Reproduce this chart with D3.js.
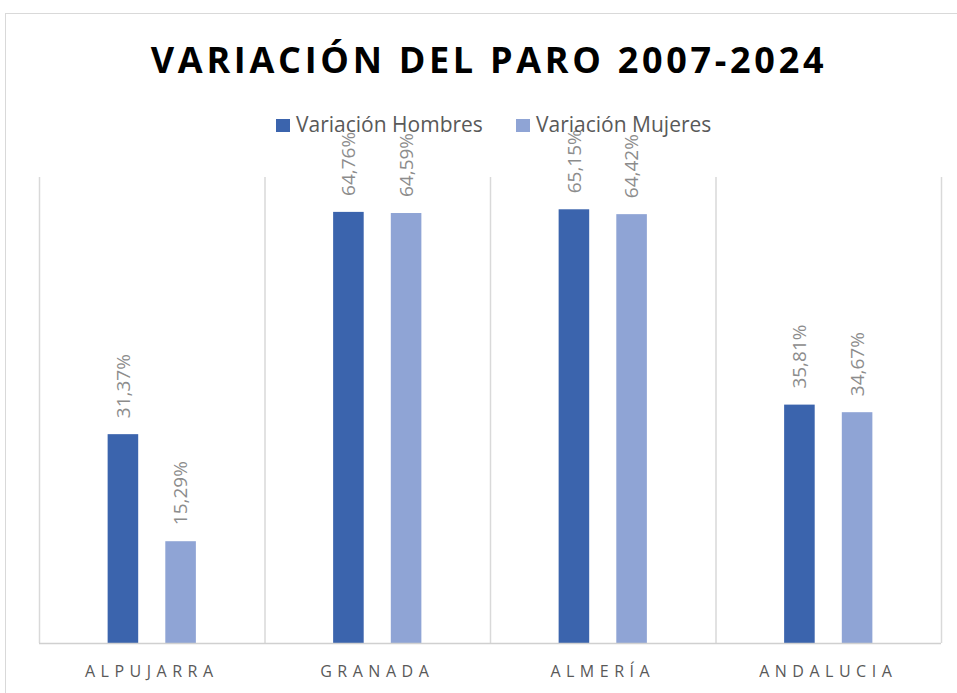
<!DOCTYPE html>
<html>
  <head>
    <meta charset="utf-8" />
    <script src="https://d3js.org/d3.v7.min.js"></script>
    <style>
      body { margin: 0; background: #fff; }
      svg text { font-family: "Open Sans", "Noto Sans", sans-serif; }
    </style>
  </head>
  <body>
    <svg id="chart"></svg>
    <script>
      // Chart data
      var categories = ["ALPUJARRA", "GRANADA", "ALMERÍA", "ANDALUCIA"];
      var seriesNames = ["Variación Hombres", "Variación Mujeres"];
      var hombres = [31.37, 64.76, 65.15, 35.81];
      var mujeres = [15.29, 64.59, 64.42, 34.67];
      var colors = ["#3b64ad", "#8fa4d5"];

      var width = 957;
      var height = 693;

      var svg = d3.select("#chart").attr("width", width).attr("height", height);

      // outer chart border
      svg.append("rect")
        .attr("x", 5.5).attr("y", 13.5)
        .attr("width", 960).attr("height", 700)
        .attr("fill", "white")
        .attr("stroke", "#d9d9d9");

      var plot = { left: 39, right: 941, top: 177, bottom: 643 };

      var x = d3.scaleBand()
        .domain(categories)
        .range([plot.left, plot.right])
        .padding(0);

      var xInner = d3.scaleBand()
        .domain(seriesNames)
        .range([0, x.bandwidth()])
        .paddingInner(0.47)
        .paddingOuter(1.19);

      var y = d3.scaleLinear().domain([0, 70]).range([plot.bottom, plot.top]);

      // vertical gridlines at category boundaries
      var bounds = categories.map(function (c) { return x(c); }).concat([plot.right]);
      svg.append("g")
        .selectAll("line")
        .data(bounds)
        .join("line")
        .attr("x1", function (d) { return d + 0.5; })
        .attr("x2", function (d) { return d + 0.5; })
        .attr("y1", plot.top)
        .attr("y2", plot.bottom)
        .attr("stroke", "#d9d9d9")
        .attr("stroke-width", 1.5);

      var rows = categories.map(function (c, i) {
        return { cat: c, values: [hombres[i], mujeres[i]] };
      });

      var groups = svg.append("g")
        .selectAll("g")
        .data(rows)
        .join("g")
        .attr("transform", function (d) { return "translate(" + x(d.cat) + ",0)"; });

      var bars = groups.selectAll("g")
        .data(function (d) {
          return d.values.map(function (v, j) { return { name: seriesNames[j], value: v, j: j }; });
        })
        .join("g");

      bars.append("rect")
        .attr("x", function (d) { return xInner(d.name); })
        .attr("y", function (d) { return y(d.value); })
        .attr("width", xInner.bandwidth())
        .attr("height", function (d) { return plot.bottom - y(d.value); })
        .attr("fill", function (d) { return colors[d.j]; });

      // rotated value labels
      bars.append("text")
        .attr("transform", function (d) {
          return "translate(" + (xInner(d.name) + xInner.bandwidth() / 2) + "," + (y(d.value) - 16) + ") rotate(-90)";
        })
        .attr("dy", "0.35em")
        .attr("text-anchor", "start")
        .style("font-size", "19px")
        .style("fill", "#8c8c8c")
        .text(function (d) { return d.value.toFixed(2).replace(".", ",") + "%"; });

      // baseline
      svg.append("line")
        .attr("x1", plot.left).attr("x2", plot.right)
        .attr("y1", plot.bottom + 0.5).attr("y2", plot.bottom + 0.5)
        .attr("stroke", "#d0d0d0")
        .attr("stroke-width", 1.5);

      // category labels
      svg.append("g")
        .selectAll("text")
        .data(categories)
        .join("text")
        .attr("x", function (d) { return x(d) + x.bandwidth() / 2; })
        .attr("y", 677)
        .attr("text-anchor", "middle")
        .style("font-size", "16px")
        .style("letter-spacing", "5.5px")
        .style("fill", "#595959")
        .text(function (d) { return d; });

      // title
      svg.append("text")
        .attr("x", 489)
        .attr("y", 73)
        .attr("text-anchor", "middle")
        .style("font-size", "36px")
        .style("font-weight", "bold")
        .style("letter-spacing", "3.7px")
        .style("fill", "#000")
        .text("VARIACIÓN DEL PARO 2007-2024");

      // legend
      var legendX = [276, 516];
      var legend = svg.append("g")
        .selectAll("g")
        .data(seriesNames)
        .join("g")
        .attr("transform", function (d, i) { return "translate(" + legendX[i] + ",119)"; });
      legend.append("rect")
        .attr("width", 14).attr("height", 13)
        .attr("fill", function (d, i) { return colors[i]; });
      legend.append("text")
        .attr("x", 20).attr("y", 13)
        .style("font-size", "21px")
        .style("fill", "#595959")
        .text(function (d) { return d; });
    </script>
  </body>
</html>
